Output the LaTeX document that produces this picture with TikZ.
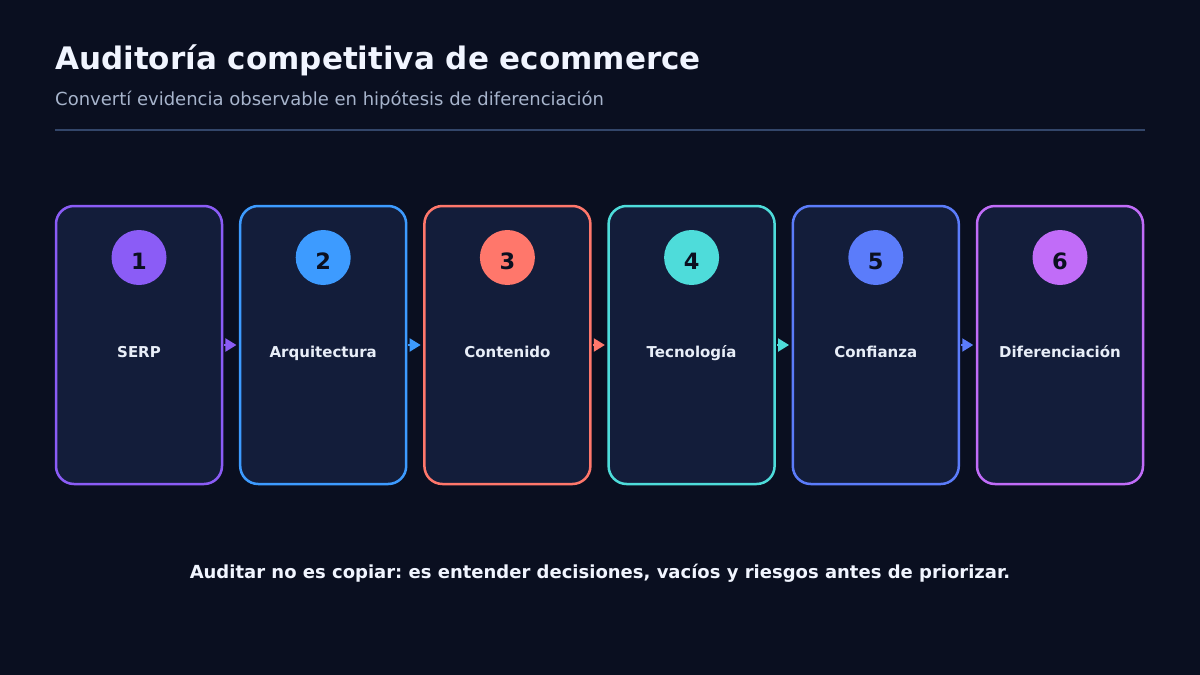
\documentclass[tikz,border=0pt]{standalone}
\usepackage{fontspec}
\setmainfont{DejaVu Sans}
\usetikzlibrary{arrows.meta}
\frenchspacing
\definecolor{bg}{HTML}{0A0F20}
\definecolor{cardfill}{HTML}{131D3A}
\definecolor{titlec}{HTML}{F1F5FF}
\definecolor{subc}{HTML}{A7B4CC}
\definecolor{rulec}{HTML}{33466A}
\definecolor{labelc}{HTML}{E8EEF8}
\definecolor{numc}{HTML}{0B1020}
\definecolor{cA}{HTML}{8B5CF6}
\definecolor{cB}{HTML}{3D9BFF}
\definecolor{cC}{HTML}{FF776B}
\definecolor{cD}{HTML}{4EDCDA}
\definecolor{cE}{HTML}{5B7CFA}
\definecolor{cF}{HTML}{C16CF8}
\tikzset{
  card/.style={draw=#1, line width=2.5pt, fill=cardfill, rounded corners=18pt,
    minimum width=166pt, minimum height=278pt, inner sep=0pt},
  badge/.style={circle, fill=#1, minimum size=55pt, inner sep=0pt},
  numtxt/.style={anchor=base, text=numc, font=\fontsize{22.5}{26}\selectfont\bfseries, inner sep=0pt},
  steplabel/.style={anchor=base, text=labelc, font=\fontsize{15}{18}\selectfont\bfseries, inner sep=0pt},
  flow/.style={draw=#1, line width=2pt, -{Triangle[length=11pt,width=13pt]}, shorten <=1pt, shorten >=2.5pt},
}
\begin{document}
\begin{tikzpicture}[x=1pt,y=-1pt]
\fill[bg] (0,0) rectangle (1200,675);
\useasboundingbox (0,0) rectangle (1200,675);
\node[anchor=base west, inner sep=0pt, text=titlec, font=\fontsize{31}{36}\selectfont\bfseries] (title) at (55,69) {Auditoría competitiva de ecommerce};
\node[anchor=base west, inner sep=0pt, text=subc, font=\fontsize{18}{22}\selectfont] (subtitle) at (55,105) {Convertí evidencia observable en hipótesis de diferenciación};
\coordinate (r1) at (55,130);
\coordinate (r2) at (1145,130);
\draw[rulec, line width=2pt] (r1) -- (r2);
\foreach \i/\x/\c/\t in {1/139/cA/SERP, 2/323.2/cB/Arquitectura, 3/507.4/cC/Contenido, 4/691.6/cD/Tecnología, 5/875.8/cE/Confianza, 6/1060/cF/Diferenciación}{
  \node[card=\c] (card\i) at (\x,345) {};
  \node[badge=\c] (badge\i) at (\x,257.5) {};
  \node[numtxt] (num\i) at (\x,269.5) {\i};
  \node[steplabel] (lab\i) at (\x,357.5) {\t};
}
\draw[flow=cA] (card1.east) -- (card2.west);
\draw[flow=cB] (card2.east) -- (card3.west);
\draw[flow=cC] (card3.east) -- (card4.west);
\draw[flow=cD] (card4.east) -- (card5.west);
\draw[flow=cE] (card5.east) -- (card6.west);
\node[anchor=base, inner sep=0pt, text=titlec, font=\fontsize{18}{21}\selectfont\bfseries] (footer) at (600,578) {Auditar no es copiar: es entender decisiones, vacíos y riesgos antes de priorizar.};
\end{tikzpicture}
\end{document}
